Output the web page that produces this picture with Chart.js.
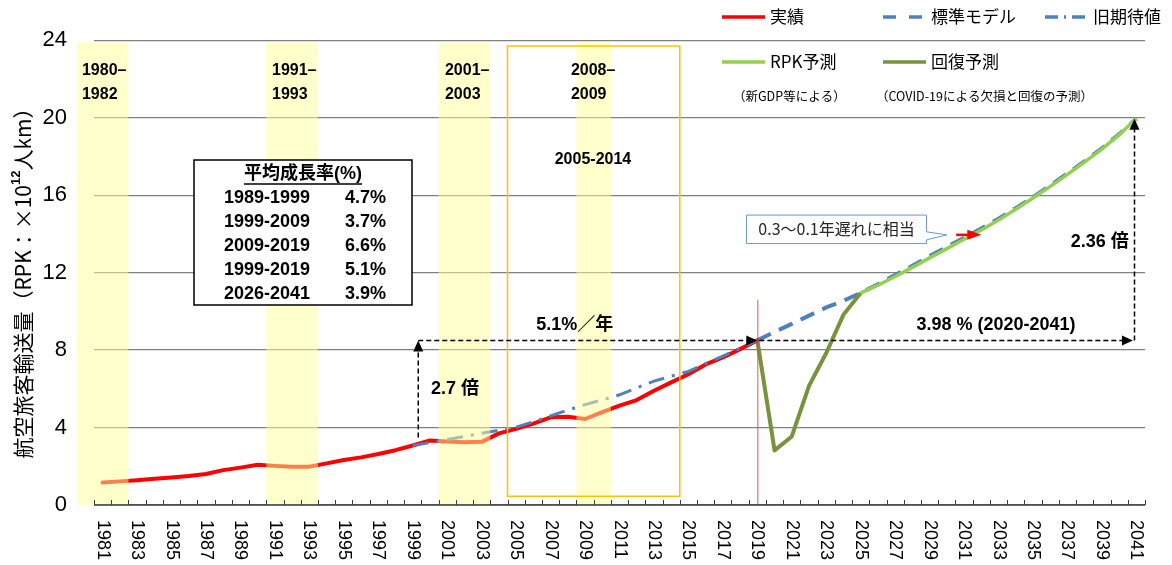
<!DOCTYPE html>
<html>
<head>
<meta charset="utf-8">
<script src="https://cdn.jsdelivr.net/npm/chart.js@4.4.1/dist/chart.umd.min.js"></script>
<style>
  html, body { margin: 0; padding: 0; background: #fff; }
  #wrap { width: 1172px; height: 565px; position: relative; }
</style>
</head>
<body>
<div id="wrap"><canvas id="rpkChart"></canvas></div>
<script>
/* ---- data ---- */
const years = [
  1981, 1982, 1983, 1984, 1985, 1986, 1987, 1988, 1989, 1990,
  1991, 1992, 1993, 1994, 1995, 1996, 1997, 1998, 1999, 2000,
  2001, 2002, 2003, 2004, 2005, 2006, 2007, 2008, 2009, 2010,
  2011, 2012, 2013, 2014, 2015, 2016, 2017, 2018, 2019, 2020,
  2021, 2022, 2023, 2024, 2025, 2026, 2027, 2028, 2029, 2030,
  2031, 2032, 2033, 2034, 2035, 2036, 2037, 2038, 2039, 2040, 2041
];

// 実績 1981-2019
const actualRpk = [
  1.16, 1.22, 1.28, 1.35, 1.42, 1.50, 1.60, 1.80, 1.93, 2.08,
  2.02, 1.97, 1.98, 2.15, 2.32, 2.46, 2.63, 2.83, 3.07, 3.33,
  3.28, 3.24, 3.26, 3.70, 3.93, 4.20, 4.53, 4.56, 4.44, 4.80,
  5.13, 5.42, 5.90, 6.33, 6.75, 7.26, 7.62, 8.05, 8.50
];
// 旧期待値 1999-2019
const oldExpected = [
  3.07, 3.22, 3.38, 3.54, 3.71, 3.86, 4.02, 4.30, 4.60, 4.90,
  5.18, 5.43, 5.69, 6.05, 6.40, 6.65, 6.90, 7.30, 7.69, 8.10, 8.50
];
// 標準モデル 2019-2041
const standardModel = [
  8.50, 8.94, 9.35, 9.78, 10.20, 10.55, 10.95, 11.40, 11.87, 12.35,
  12.85, 13.32, 13.80, 14.28, 14.78, 15.33, 15.90, 16.50, 17.12, 17.76,
  18.42, 19.15, 19.95
];
// RPK予測 2025-2041
const rpkForecast = [
  10.95, 11.35, 11.80, 12.27, 12.76, 13.24, 13.72, 14.20, 14.72, 15.27,
  15.85, 16.45, 17.07, 17.72, 18.38, 19.12, 19.95
];
// 回復予測 2019-2025
const recoveryForecast = [8.50, 2.82, 3.54, 6.15, 7.85, 9.83, 10.95];

const recessionBands = [[1980, 1982], [1991, 1993], [2001, 2003], [2009, 2010]];
const bandLabels = [['1980–', '1982'], ['1991–', '1993'], ['2001–', '2003'], ['2008–', '2009']];
const bandLabelLeft = [1979.8, 1990.83, 2000.87, 2008.18];

const growthPeriods = ['1989-1999', '1999-2009', '2009-2019', '1999-2019', '2026-2041'];
const growthRates = ['4.7%', '3.7%', '6.6%', '5.1%', '3.9%'];

const yTicks = [0, 4, 8, 12, 16, 20, 24];

/* ---- helpers ---- */
const SANS = '"Liberation Sans", "Noto Sans CJK JP", sans-serif';
const JP = '"Noto Sans CJK JP", "Liberation Sans", sans-serif';
const BLUE = '#4F81BD';

function fromYear(start, values) {
  return years.map(yr => {
    const i = yr - start;
    return i >= 0 && i < values.length ? values[i] : null;
  });
}

function arrowHead(ctx, x, y, dir, len, half) {
  ctx.beginPath();
  if (dir === 'right') {
    ctx.moveTo(x, y); ctx.lineTo(x - len, y - half); ctx.lineTo(x - len, y + half);
  } else {
    ctx.moveTo(x, y); ctx.lineTo(x - half, y + len); ctx.lineTo(x + half, y + len);
  }
  ctx.closePath();
  ctx.fill();
}

/* ---- overlay: bands, axis, annotations, legend ---- */
const decor = {
  id: 'decor',
  afterDatasetsDraw(chart) {
    const { ctx, chartArea: area, scales: { x, y } } = chart;
    const px = yr => x.getPixelForValue(yr - years[0]);
    const py = v => y.getPixelForValue(v);
    const step = px(years[0] + 1) - px(years[0]);
    ctx.save();

    // recession bands (translucent, over the lines)
    ctx.fillStyle = 'rgba(255,255,153,0.5)';
    recessionBands.forEach(([a, b]) => {
      const l = px(a) - step / 2, r = px(b) + step / 2;
      ctx.fillRect(l, area.top + 2, r - l, area.bottom - area.top - 2);
    });

    // 2005-2014 frame
    ctx.strokeStyle = '#FFC000';
    ctx.lineWidth = 1.5;
    const fl = px(2004.5), fr = px(2014.5);
    ctx.strokeRect(fl, py(23.7), fr - fl, py(0.45) - py(23.7));

    // 2019 marker line
    ctx.strokeStyle = 'rgba(192,80,77,0.9)';
    ctx.lineWidth = 1;
    ctx.beginPath();
    ctx.moveTo(px(2019) + 0.5, py(10.6));
    ctx.lineTo(px(2019) + 0.5, area.bottom);
    ctx.stroke();

    // x axis line and inward ticks
    ctx.strokeStyle = '#404040';
    ctx.lineWidth = 1.3;
    ctx.beginPath();
    ctx.moveTo(area.left, area.bottom);
    ctx.lineTo(area.right, area.bottom);
    ctx.stroke();
    ctx.lineWidth = 1;
    ctx.beginPath();
    for (let i = 0; i <= years.length; i++) {
      const tx = Math.round(x.getPixelForValue(i - 0.5)) + 0.5;
      ctx.moveTo(tx, area.bottom);
      ctx.lineTo(tx, area.bottom - 5);
    }
    ctx.stroke();

    // x labels, rotated to read downward
    ctx.fillStyle = '#000';
    ctx.font = '18px ' + SANS;
    ctx.textAlign = 'left';
    ctx.textBaseline = 'middle';
    years.filter(yr => yr % 2 === 1).forEach(yr => {
      ctx.save();
      ctx.translate(px(yr), area.bottom + 15);
      ctx.rotate(Math.PI / 2);
      ctx.fillText(String(yr), 0, 0);
      ctx.restore();
    });

    // y axis title with superscript
    ctx.save();
    ctx.translate(23, 278);
    ctx.rotate(-Math.PI / 2);
    const parts = [
      { t: '航空旅客輸送量（RPK：×10', f: '21px ' + JP, dy: 0 },
      { t: '12', f: 'bold 13px ' + SANS, dy: -7 },
      { t: '人km）', f: '21px ' + JP, dy: 0 }
    ];
    let total = 0;
    parts.forEach(p => { ctx.font = p.f; p.w = ctx.measureText(p.t).width; total += p.w; });
    let cx = -total / 2;
    parts.forEach(p => { ctx.font = p.f; ctx.fillText(p.t, cx, p.dy); cx += p.w; });
    ctx.restore();

    // band labels
    ctx.font = 'bold 16px ' + SANS;
    bandLabels.forEach((lines, i) => {
      const lx = px(bandLabelLeft[i]);
      ctx.fillText(lines[0], lx, 71);
      ctx.fillText(lines[1], lx, 95);
    });

    // 2005-2014 label
    ctx.textAlign = 'center';
    ctx.fillText('2005-2014', px(2009.46), py(17.85));

    // growth rate table
    ctx.fillStyle = '#fff';
    ctx.fillRect(194, 160, 218, 145);
    ctx.strokeStyle = '#000';
    ctx.lineWidth = 1.5;
    ctx.strokeRect(194, 160, 218, 145);
    ctx.fillStyle = '#000';
    ctx.font = 'bold 18px ' + SANS;
    ctx.textAlign = 'center';
    ctx.fillText('平均成長率(%)', 303, 174);
    const tw = ctx.measureText('平均成長率(%)').width;
    ctx.lineWidth = 1.5;
    ctx.beginPath();
    ctx.moveTo(303 - tw / 2, 184);
    ctx.lineTo(303 + tw / 2, 184);
    ctx.stroke();
    growthPeriods.forEach((p, i) => {
      const ry = 198 + i * 24;
      ctx.textAlign = 'left';
      ctx.fillText(p, 224, ry);
      ctx.textAlign = 'right';
      ctx.fillText(growthRates[i], 386, ry);
    });

    // dashed arrows: 1999 -> 2019 and 2019 -> 2041
    ctx.strokeStyle = '#000';
    ctx.fillStyle = '#000';
    ctx.lineWidth = 1.5;
    ctx.setLineDash([5, 3]);
    const ax0 = px(1999.32), ax1 = px(2019), ax2 = px(2040.8), ax3 = px(2040.89);
    const ay = py(8.5);
    ctx.beginPath();
    ctx.moveTo(ax0, py(3.49)); ctx.lineTo(ax0, ay + 10);
    ctx.moveTo(ax0, ay); ctx.lineTo(ax1 - 10, ay);
    ctx.moveTo(ax1 + 2, ay); ctx.lineTo(ax2 - 10, ay);
    ctx.moveTo(ax3, ay); ctx.lineTo(ax3, py(19.95) + 10);
    ctx.stroke();
    ctx.setLineDash([]);
    arrowHead(ctx, ax0, ay, 'up', 11, 5);
    arrowHead(ctx, ax1, ay, 'right', 11, 5);
    arrowHead(ctx, ax2, ay, 'right', 11, 5);
    arrowHead(ctx, ax3, py(19.95), 'up', 11, 5);

    ctx.font = 'bold 18px ' + SANS;
    ctx.textAlign = 'center';
    ctx.fillText('5.1%／年', px(2008.4), py(9.3));
    ctx.fillText('2.7 倍', px(2001.45), py(6.0));
    ctx.fillText('3.98 % (2020-2041)', px(2032.85), py(9.28));
    ctx.textAlign = 'right';
    ctx.fillText('2.36 倍', px(2040.56), py(13.6));

    // callout
    const cl = px(2018.37), cr = px(2028.82), ct = py(14.97), cb = py(13.5);
    const tipX = px(2030.0), tipY = py(13.95);
    ctx.beginPath();
    ctx.moveTo(cl, ct); ctx.lineTo(cr, ct); ctx.lineTo(cr, tipY - 3);
    ctx.lineTo(tipX, tipY); ctx.lineTo(cr, tipY + 5);
    ctx.lineTo(cr, cb); ctx.lineTo(cl, cb); ctx.closePath();
    ctx.fillStyle = '#fff';
    ctx.fill();
    ctx.strokeStyle = '#6F97CC';
    ctx.lineWidth = 1;
    ctx.stroke();
    ctx.fillStyle = '#262626';
    ctx.font = '16px ' + JP;
    ctx.textAlign = 'center';
    ctx.fillText('0.3～0.1年遅れに相当', (cl + cr) / 2, (ct + cb) / 2);

    // red pointer
    ctx.strokeStyle = '#FF0000';
    ctx.fillStyle = '#FF0000';
    ctx.lineWidth = 2.5;
    const rx0 = px(2030.54), rx1 = px(2032.0);
    ctx.beginPath();
    ctx.moveTo(rx0, tipY); ctx.lineTo(rx1 - 12, tipY);
    ctx.stroke();
    arrowHead(ctx, rx1, tipY, 'right', 14, 5);

    // legend
    const ds = chart.data.datasets;
    const entries = [
      { d: ds[1], x: 722, y: 17, dash: [] },
      { d: ds[4], x: 883, y: 17, dash: [13, 13] },
      { d: ds[0], x: 1045, y: 17, dash: [13, 6, 2, 6] },
      { d: ds[2], x: 722, y: 62, dash: [] },
      { d: ds[3], x: 883, y: 62, dash: [] }
    ];
    ctx.font = '17px ' + JP;
    ctx.textAlign = 'left';
    entries.forEach(e => {
      ctx.strokeStyle = e.d.borderColor;
      ctx.lineWidth = 3.5;
      ctx.setLineDash(e.dash);
      ctx.beginPath();
      ctx.moveTo(e.x, e.y); ctx.lineTo(e.x + 43, e.y);
      ctx.stroke();
      ctx.setLineDash([]);
      ctx.fillStyle = '#000';
      ctx.fillText(e.d.label, e.x + 48, e.y);
    });
    ctx.font = '12.5px ' + JP;
    ctx.fillText('（新GDP等による）', 733, 96);
    ctx.fillText('（COVID-19による欠損と回復の予測）', 876, 96);

    ctx.restore();
  }
};

new Chart(document.getElementById('rpkChart'), {
  type: 'line',
  data: {
    labels: years,
    datasets: [
      { label: '旧期待値', data: fromYear(1999, oldExpected), borderColor: BLUE, borderWidth: 3, borderDash: [16, 8, 3, 8] },
      { label: '実績', data: fromYear(1981, actualRpk), borderColor: '#FF0000', borderWidth: 4, borderCapStyle: 'round', borderJoinStyle: 'round' },
      { label: 'RPK予測', data: fromYear(2025, rpkForecast), borderColor: '#92D050', borderWidth: 3.5, borderJoinStyle: 'round' },
      { label: '回復予測', data: fromYear(2019, recoveryForecast), borderColor: '#77933C', borderWidth: 4, borderJoinStyle: 'round' },
      { label: '標準モデル', data: fromYear(2019, standardModel), borderColor: BLUE, borderWidth: 4, borderDash: [15, 9] }
    ]
  },
  options: {
    responsive: true,
    maintainAspectRatio: false,
    animation: false,
    events: [],
    layout: { padding: { top: 37, right: 27, left: 0, bottom: 0 } },
    elements: { point: { radius: 0 }, line: { tension: 0, fill: false } },
    plugins: { legend: { display: false }, tooltip: { enabled: false } },
    scales: {
      x: {
        type: 'category',
        offset: true,
        grid: { display: false },
        border: { display: false },
        ticks: { display: false },
        afterFit: s => { s.height = 60; }
      },
      y: {
        min: 0,
        max: 24,
        afterBuildTicks: s => { s.ticks = yTicks.map(v => ({ value: v })); },
        ticks: { color: '#000', font: { family: SANS, size: 22 }, padding: 27 },
        grid: { color: '#808080', lineWidth: 1.2, drawTicks: false },
        border: { display: false },
        afterFit: s => { s.width = 94; }
      }
    }
  },
  plugins: [decor]
});
</script>
</body>
</html>
